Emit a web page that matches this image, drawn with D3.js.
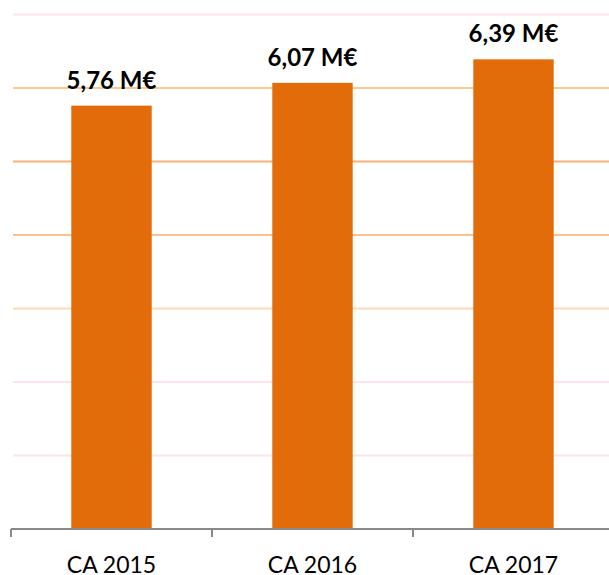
<!DOCTYPE html>
<html>
<head>
<meta charset="utf-8">
<script src="https://cdn.jsdelivr.net/npm/d3@7"></script>
<style>
  html, body { margin: 0; padding: 0; background: #fff; overflow: hidden; }
</style>
</head>
<body>
<div id="chart"></div>
<script>
// Data
const categories = ["CA 2015", "CA 2016", "CA 2017"];
const values = [5.76, 6.07, 6.39];
const labels = ["5,76 M€", "6,07 M€", "6,39 M€"];
const gridValues = [1, 2, 3, 4, 5, 6, 7];
const gridColors = ["#fde3ea", "#fde3ea", "#fdd9b5", "#fbc18f", "#f9b07b", "#f9ca92", "#fde3ea"];

const width = 609, height = 575;

const svg = d3.select("#chart")
  .append("svg")
  .attr("width", width)
  .attr("height", height);

// Scales
const x = d3.scaleBand()
  .domain(categories)
  .range([11, 614])
  .padding(0);

const y = d3.scaleLinear()
  .domain([0, 7])
  .range([529, 14.5]);

// Gridlines
svg.selectAll(".grid")
  .data(gridValues)
  .enter()
  .append("line")
  .attr("class", "grid")
  .attr("x1", 13)
  .attr("x2", width)
  .attr("y1", d => y(d))
  .attr("y2", d => y(d))
  .attr("stroke", (d, i) => gridColors[i])
  .attr("stroke-width", 2);

// Bars
const barW = x.bandwidth() * 0.4;
svg.selectAll(".bar")
  .data(values)
  .enter()
  .append("rect")
  .attr("class", "bar")
  .attr("x", (d, i) => x(categories[i]) + (x.bandwidth() - barW) / 2)
  .attr("y", d => y(d))
  .attr("width", barW)
  .attr("height", d => y(0) - y(d))
  .attr("fill", "#e36c0a");

// Value labels
svg.selectAll(".val")
  .data(values)
  .enter()
  .append("text")
  .attr("class", "val")
  .attr("x", (d, i) => x(categories[i]) + x.bandwidth() / 2)
  .attr("y", d => y(d) - 17)
  .attr("text-anchor", "middle")
  .style("font-family", "Lato, sans-serif")
  .style("font-weight", "bold")
  .style("font-size", "24px")
  .attr("fill", "#000")
  .text((d, i) => labels[i]);

// X axis
const xAxis = svg.append("g")
  .attr("transform", `translate(0,${y(0)})`)
  .call(d3.axisBottom(x).tickSize(0).tickPadding(28));

xAxis.select(".domain")
  .attr("stroke", "#898989")
  .attr("stroke-width", 2)
  .attr("d", `M11,0H${width}`);

xAxis.selectAll(".tick text")
  .style("font-family", "Lato, sans-serif")
  .style("font-size", "23px")
  .attr("fill", "#000")
  .attr("dy", "0.71em");

// Tick marks at band edges
svg.selectAll(".edge")
  .data(categories)
  .enter()
  .append("line")
  .attr("class", "edge")
  .attr("x1", d => x(d))
  .attr("x2", d => x(d))
  .attr("y1", y(0))
  .attr("y2", y(0) + 8)
  .attr("stroke", "#898989")
  .attr("stroke-width", 2);
</script>
</body>
</html>
